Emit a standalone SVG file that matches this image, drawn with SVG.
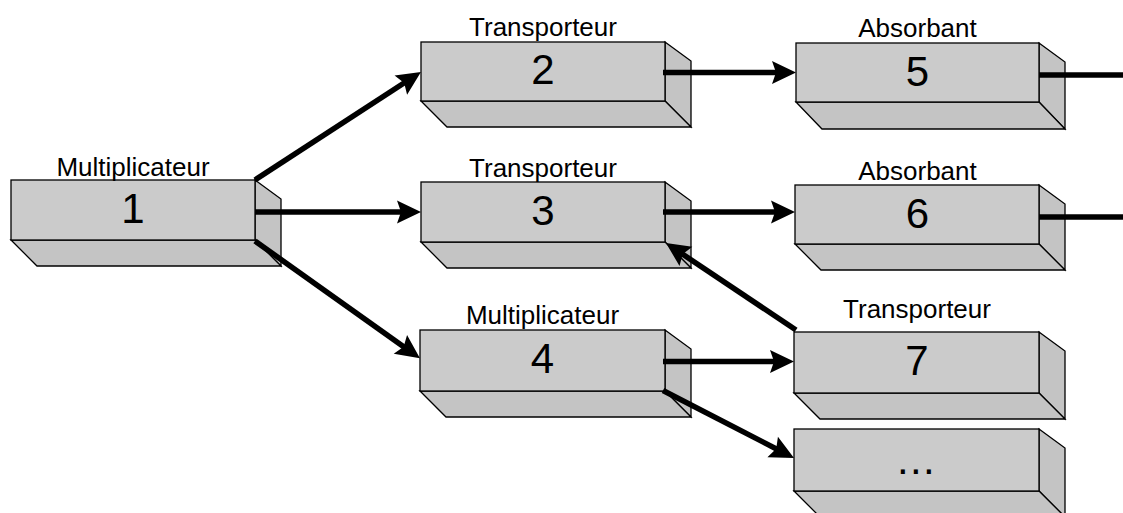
<svg xmlns="http://www.w3.org/2000/svg" width="1123" height="513" viewBox="0 0 1123 513">
  <style>
    .front { fill: #cbcbcb; stroke: #000; stroke-width: 1.3; }
    .side { fill: #c4c4c4; stroke: #000; stroke-width: 1.3; stroke-linejoin: miter; }
    .num { font-family: "Liberation Sans", Arial, sans-serif; font-size: 42px; fill: #000; text-anchor: middle; }
    .lbl { font-family: "Liberation Sans", Arial, sans-serif; font-size: 26px; fill: #000; text-anchor: middle; }
    .wire { fill: none; stroke: #000; stroke-width: 5.5; stroke-linecap: butt; }
    .arrow { marker-end: url(#head); }
  </style>
  <defs>
    <!-- the head's notch sits on the line end; its tip reaches 17px further -->
    <marker id="head" markerUnits="userSpaceOnUse" viewBox="-9 -13 28 26" refX="0" refY="0" markerWidth="28" markerHeight="26" orient="auto">
      <path d="M17,0 L-7,-11.5 L-3,0 L-7,11.5 Z" fill="#000"/>
    </marker>
  </defs>
  <rect width="1123" height="513" fill="#fff"/>

  <!-- node 1 -->
  <g id="node1">
    <polygon class="side" points="255,180 281,199 281,266 255,240"/>
    <polygon class="side" points="11,240 37,266 281,266 255,240"/>
    <rect class="front" x="11" y="180" width="244" height="60"/>
    <text class="lbl" x="133" y="176">Multiplicateur</text>
    <text class="num" x="133" y="223">1</text>
  </g>

  <!-- node 2 -->
  <g id="node2">
    <polygon class="side" points="665,42 691,61 691,127 665,101"/>
    <polygon class="side" points="421,101 447,127 691,127 665,101"/>
    <rect class="front" x="421" y="42" width="244" height="59"/>
    <text class="lbl" x="543" y="36">Transporteur</text>
    <text class="num" x="543" y="84">2</text>
  </g>

  <!-- node 3 -->
  <g id="node3">
    <polygon class="side" points="665,182 691,201 691,268 665,242"/>
    <polygon class="side" points="421,242 447,268 691,268 665,242"/>
    <rect class="front" x="421" y="182" width="244" height="60"/>
    <text class="lbl" x="543" y="177">Transporteur</text>
    <text class="num" x="543" y="225">3</text>
  </g>

  <!-- node 4 -->
  <g id="node4">
    <polygon class="side" points="665,330 691,349 691,417 665,391"/>
    <polygon class="side" points="420,391 446,417 691,417 665,391"/>
    <rect class="front" x="420" y="330" width="245" height="61"/>
    <text class="lbl" x="542.5" y="324">Multiplicateur</text>
    <text class="num" x="542.5" y="373">4</text>
  </g>

  <!-- node 5 -->
  <g id="node5">
    <polygon class="side" points="1039,43 1065,62 1065,129 1039,102"/>
    <polygon class="side" points="796,102 822,129 1065,129 1039,102"/>
    <rect class="front" x="796" y="43" width="243" height="59"/>
    <text class="lbl" x="917.5" y="37">Absorbant</text>
    <text class="num" x="917.5" y="86">5</text>
  </g>

  <!-- node 6 -->
  <g id="node6">
    <polygon class="side" points="1039,185 1065,204 1065,270 1039,244"/>
    <polygon class="side" points="795,244 821,270 1065,270 1039,244"/>
    <rect class="front" x="795" y="185" width="244" height="59"/>
    <text class="lbl" x="917.5" y="180">Absorbant</text>
    <text class="num" x="917.5" y="228">6</text>
  </g>

  <!-- node 7 -->
  <g id="node7">
    <polygon class="side" points="1039,332 1065,351 1065,419 1039,393"/>
    <polygon class="side" points="794,393 820,419 1065,419 1039,393"/>
    <rect class="front" x="794" y="332" width="245" height="61"/>
    <text class="lbl" x="917" y="318">Transporteur</text>
    <text class="num" x="917" y="375">7</text>
  </g>

  <!-- node 8: further nodes -->
  <g id="node8">
    <polygon class="side" points="1039,429 1065,448 1065,517 1039,491"/>
    <polygon class="side" points="794,491 820,517 1065,517 1039,491"/>
    <rect class="front" x="794" y="429" width="245" height="62"/>
    <text class="num" x="916.5" y="474" letter-spacing="1.3">...</text>
  </g>

  <!-- connectors, drawn over the box sides -->
  <g id="connectors">
    <line class="wire arrow" x1="255" y1="180" x2="406.7" y2="81.3"/>
    <line class="wire arrow" x1="255" y1="212" x2="404" y2="212"/>
    <line class="wire arrow" x1="255" y1="241" x2="406.1" y2="348.5"/>
    <line class="wire arrow" x1="663" y1="72.5" x2="779" y2="72.5"/>
    <line class="wire" x1="1039" y1="75" x2="1123" y2="75"/>
    <line class="wire arrow" x1="663" y1="212" x2="778" y2="212"/>
    <line class="wire" x1="1039" y1="217" x2="1123" y2="217"/>
    <line class="wire arrow" x1="796" y1="330" x2="680.1" y2="252.5"/>
    <line class="wire arrow" x1="663" y1="361.5" x2="777" y2="361.5"/>
    <line class="wire arrow" x1="663" y1="390.5" x2="778.9" y2="450.2"/>
  </g>
</svg>
